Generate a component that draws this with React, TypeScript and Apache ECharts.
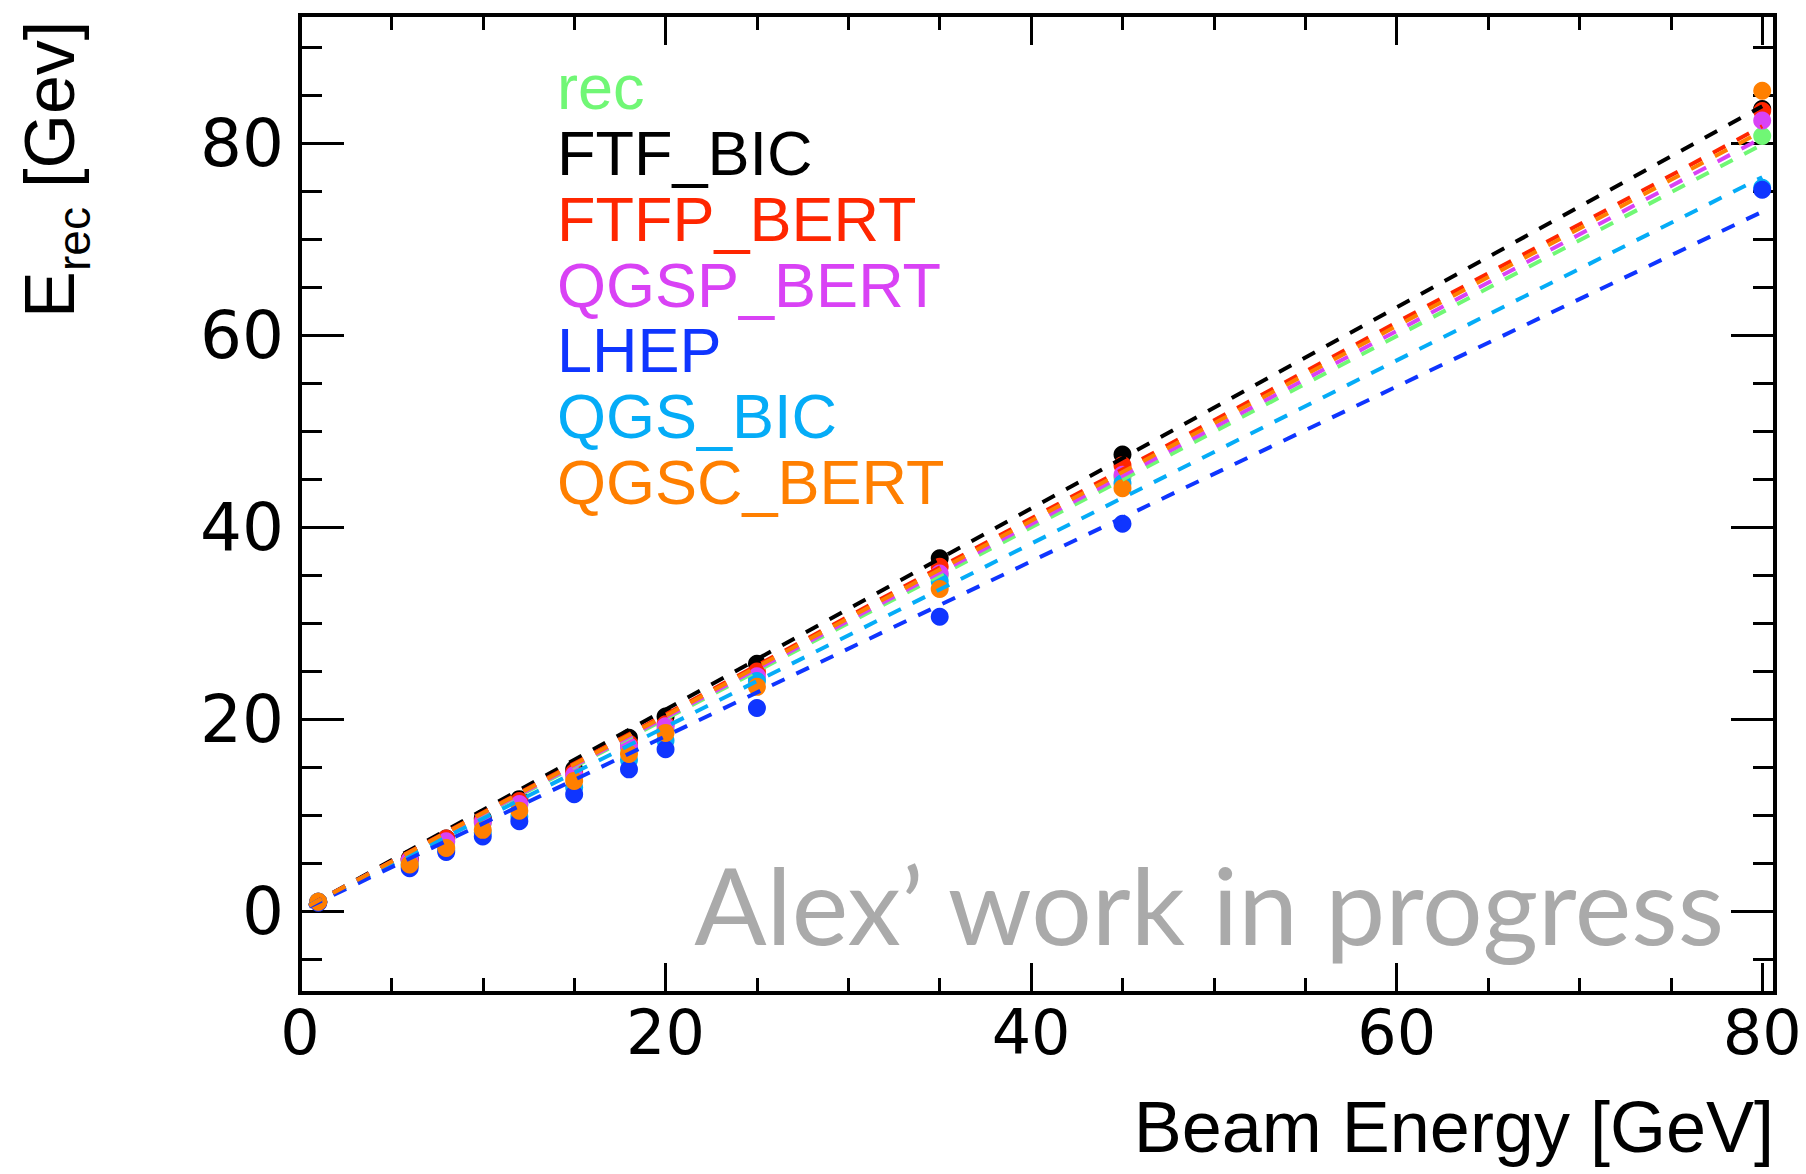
import React, { useEffect, useRef } from "react";
import * as echarts from "echarts";

// ---- data ----
const beamEnergy = [1, 6, 8, 10, 12, 15, 18, 20, 25, 35, 45, 80];

const seriesNames = ["rec", "FTF_BIC", "FTFP_BERT", "QGSP_BERT", "LHEP", "QGS_BIC", "QGSC_BERT"];
const seriesColors = ["#70f775", "#000000", "#ff2600", "#d942f5", "#0f35ff", "#05acf7", "#ff7f00"];

const recValues = [1.0, 5.2, 7.2, 9.2, 11.1, 14.0, 17.0, 18.9, 24.2, 35.0, 45.2, 80.8];
const ftfBicValues = [1.0, 5.5, 7.6, 9.7, 11.7, 14.8, 18.1, 20.3, 25.8, 36.8, 47.6, 83.6];
const ftfpBertValues = [1.0, 5.4, 7.6, 9.5, 11.5, 14.5, 17.5, 19.5, 25.0, 35.9, 46.5, 83.4];
const qgspBertValues = [1.0, 5.3, 7.3, 9.3, 11.2, 14.2, 17.2, 19.3, 24.5, 35.2, 45.5, 82.4];
const lhepValues = [0.9, 4.5, 6.2, 7.8, 9.4, 12.2, 14.8, 16.9, 21.2, 30.7, 40.4, 75.2];
const qgsBicValues = [1.0, 4.8, 6.4, 8.2, 9.9, 12.9, 15.8, 17.8, 24.0, 34.4, 44.6, 75.4];
const qgscBertValues = [1.0, 4.9, 6.6, 8.5, 10.5, 13.6, 16.4, 18.6, 23.4, 33.6, 44.1, 85.5];

const allValues = [recValues, ftfBicValues, ftfpBertValues, qgspBertValues, lhepValues, qgsBicValues, qgscBertValues];

// linear fit lines: endpoints
const fitX = [0.5, 80];
const fitStart = [0.6, 0.6, 0.6, 0.6, 0.5, 0.6, 0.6];
const fitEnd = [79.9, 83.9, 81.8, 80.6, 72.9, 76.5, 81.3];

// drawing order (index into the arrays above)
const drawOrder = [0, 1, 2, 3, 5, 4, 6];

// axes
const xMin = 0;
const xMax = 80.7;
const yMin = -8.5;
const yMax = 93.4;
const xMajorTicks = [0, 20, 40, 60, 80];
const xMinorTicks = [5, 10, 15, 25, 30, 35, 45, 50, 55, 65, 70, 75];
const yMajorTicks = [0, 20, 40, 60, 80];
const yMinorTicks = [-5, 5, 10, 15, 25, 30, 35, 45, 50, 55, 65, 70, 75, 85, 90];

const xTitle = "Beam Energy [GeV]";
const watermark = "Alex\u2019 work in progress";

const TICK_FONT = "DejaVu Sans";
const TEXT_FONT = "Liberation Sans";

function makeXAxis(position: string, ticks: number[], len: number, labels: boolean) {
  return {
    type: "value",
    min: xMin,
    max: xMax,
    position,
    axisLine: { show: false, onZero: false },
    splitLine: { show: false },
    axisTick: { show: true, inside: true, length: len, customValues: ticks, lineStyle: { color: "#000", width: 3 } },
    axisLabel: labels
      ? { show: true, customValues: ticks, fontFamily: TICK_FONT, fontSize: 62, color: "#000", margin: 8 }
      : { show: false },
  };
}
function makeYAxis(position: string, ticks: number[], len: number, labels: boolean) {
  return {
    type: "value",
    min: yMin,
    max: yMax,
    position,
    axisLine: { show: false, onZero: false },
    splitLine: { show: false },
    axisTick: { show: true, inside: true, length: len, customValues: ticks, lineStyle: { color: "#000", width: 3 } },
    axisLabel: labels
      ? { show: true, customValues: ticks, fontFamily: TICK_FONT, fontSize: 66, color: "#000", margin: 16 }
      : { show: false },
  };
}

export default function App() {
  const ref = useRef<HTMLDivElement>(null);
  useEffect(() => {
    if (!ref.current) return;
    const chart = echarts.init(ref.current, null, { renderer: "svg" });

    const series: any[] = [];
    drawOrder.forEach((i) => {
      series.push({
        type: "scatter",
        name: seriesNames[i],
        symbol: "circle",
        symbolSize: 18,
        itemStyle: { color: seriesColors[i], opacity: 1 },
        data: beamEnergy.map((e, k) => [e, allValues[i][k]]),
        silent: true,
      });
      series.push({
        type: "line",
        name: seriesNames[i] + " fit",
        showSymbol: false,
        symbol: "none",
        lineStyle: { color: seriesColors[i], width: 4, type: [14, 13] },
        data: fitX.map((x, k) => [x, k === 0 ? fitStart[i] : fitEnd[i]]),
        silent: true,
      });
    });

    const legendBaseY = 87.2;
    const legendStep = 65.8;
    const graphic: any[] = seriesNames.map((n, i) => ({
      type: "text",
      x: 557,
      y: legendBaseY + i * legendStep,
      style: {
        text: n,
        fill: seriesColors[i],
        fontFamily: TEXT_FONT,
        fontSize: 63,
        align: "left",
        verticalAlign: "middle",
      },
      z: 100,
    }));
    graphic.push({
      type: "text",
      x: 1774,
      y: 1127,
      style: { text: xTitle, fill: "#000", fontFamily: TEXT_FONT, fontSize: 72, align: "right", verticalAlign: "middle" },
    });
    // y-axis title: E_rec [Gev]
    graphic.push({
      type: "text",
      x: 50,
      y: 318,
      rotation: Math.PI / 2,
      style: { text: "E", fill: "#000", fontFamily: TEXT_FONT, fontSize: 70, align: "left", verticalAlign: "middle" },
    });
    graphic.push({
      type: "text",
      x: 74,
      y: 271,
      rotation: Math.PI / 2,
      style: { text: "rec", fill: "#000", fontFamily: TEXT_FONT, fontSize: 46, align: "left", verticalAlign: "middle" },
    });
    graphic.push({
      type: "text",
      x: 50,
      y: 188,
      rotation: Math.PI / 2,
      style: { text: "[Gev]", fill: "#000", fontFamily: TEXT_FONT, fontSize: 70, align: "left", verticalAlign: "middle" },
    });
    graphic.push({
      type: "text",
      x: 1724,
      y: 903,
      style: { text: watermark, fill: "#aaaaaa", fontFamily: "Lato", fontSize: 107, align: "right", verticalAlign: "middle" },
      z: -1,
    });

    chart.setOption({
      animation: false,
      backgroundColor: "#ffffff",
      grid: {
        left: 300,
        right: 31,
        top: 15,
        bottom: 181,
        show: true,
        borderColor: "#000",
        borderWidth: 4,
        backgroundColor: "transparent",
        containLabel: false,
        outerBoundsMode: "none",
      },
      xAxis: [
        makeXAxis("bottom", xMajorTicks, 30, true),
        makeXAxis("bottom", xMinorTicks, 15, false),
        makeXAxis("top", xMajorTicks, 30, false),
        makeXAxis("top", xMinorTicks, 15, false),
      ],
      yAxis: [
        makeYAxis("left", yMajorTicks, 44, true),
        makeYAxis("left", yMinorTicks, 22, false),
        makeYAxis("right", yMajorTicks, 44, false),
        makeYAxis("right", yMinorTicks, 22, false),
      ],
      graphic,
      series,
    });
    return () => chart.dispose();
  }, []);
  return (
    <div
      ref={ref}
      style={{ position: "fixed", left: 0, top: 0, width: 1806, height: 1174, background: "#fff" }}
    />
  );
}
